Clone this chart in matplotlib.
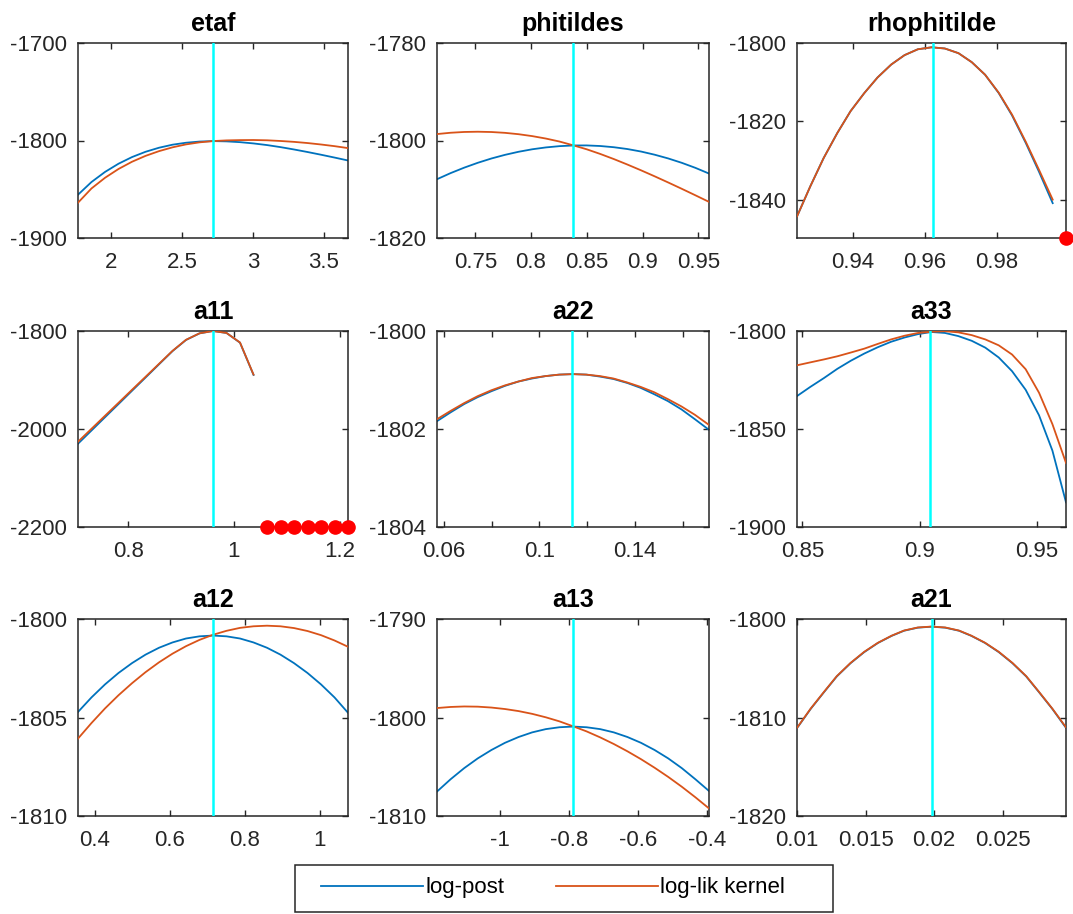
import matplotlib
matplotlib.use("Agg")
import matplotlib.pyplot as plt
from matplotlib.patches import Rectangle
from matplotlib.lines import Line2D

plt.rcParams['font.family'] = ['Liberation Sans', 'DejaVu Sans']
plt.rcParams['axes.unicode_minus'] = False

# ---------------- data ----------------
titles = ['etaf', 'phitildes', 'rhophitilde', 'a11', 'a22', 'a33', 'a12', 'a13', 'a21']

etaf_x = [1.766, 1.861, 1.957, 2.052, 2.147, 2.242, 2.338, 2.433, 2.528, 2.623, 2.719,
          2.814, 2.909, 3.004, 3.100, 3.195, 3.290, 3.385, 3.481, 3.576, 3.671]
etaf_post = [-1855.6, -1842.6, -1832.2, -1823.8, -1817.0, -1811.6, -1807.4, -1804.3, -1802.3, -1801.1, -1800.6,
             -1800.9, -1801.7, -1803.0, -1804.7, -1806.8, -1809.2, -1811.8, -1814.6, -1817.5, -1820.5]
etaf_lik = [-1863.8, -1849.2, -1838.2, -1829.2, -1821.8, -1815.8, -1810.9, -1807.0, -1804.0, -1801.9, -1800.6,
            -1799.9, -1799.6, -1799.5, -1799.8, -1800.5, -1801.4, -1802.6, -1804.1, -1805.8, -1807.8]

phitildes_x = [0.7157, 0.7279, 0.7401, 0.7523, 0.7645, 0.7767, 0.7889, 0.8011, 0.8133, 0.8255, 0.8377,
               0.8499, 0.8621, 0.8743, 0.8864, 0.8986, 0.9108, 0.9230, 0.9352, 0.9474, 0.9596]
phitildes_post = [-1807.94, -1806.69, -1805.57, -1804.57, -1803.69, -1802.94, -1802.31, -1801.80, -1801.42, -1801.16, -1801.02,
                  -1801.01, -1801.13, -1801.38, -1801.75, -1802.26, -1802.91, -1803.68, -1804.58, -1805.61, -1806.78]
phitildes_lik = [-1798.68, -1798.41, -1798.25, -1798.20, -1798.26, -1798.43, -1798.71, -1799.10, -1799.60, -1800.21, -1800.98,
                 -1801.80, -1802.76, -1803.81, -1804.93, -1806.11, -1807.34, -1808.61, -1809.91, -1811.24, -1812.59]

rho_x = [0.9245, 0.9282, 0.9319, 0.9357, 0.9394, 0.9432, 0.9469, 0.9507, 0.9544, 0.9581,
         0.9619, 0.9656, 0.9694, 0.9731, 0.9768, 0.9806, 0.9843, 0.9881, 0.9918, 0.9956]
rho_post = [-1844.3, -1836.6, -1829.4, -1823.0, -1817.4, -1812.8, -1808.8, -1805.5, -1803.1, -1801.6,
            -1801.1, -1801.4, -1802.6, -1804.9, -1808.1, -1812.8, -1818.5, -1825.5, -1832.9, -1840.9]
rho_lik = [-1844.3, -1836.6, -1829.4, -1823.0, -1817.4, -1812.8, -1808.8, -1805.5, -1803.1, -1801.6,
           -1801.1, -1801.4, -1802.6, -1804.9, -1808.1, -1812.7, -1818.3, -1825.2, -1832.4, -1840.0]
rho_bad_x = [0.9993]

a11_x = [0.705, 0.7306, 0.7561, 0.7817, 0.8072, 0.8328, 0.8583, 0.8839, 0.9094, 0.935,
         0.9605, 0.9861, 1.0116, 1.0372]
a11_post = [-2030.0, -2003.0, -1976.0, -1949.0, -1922.0, -1895.0, -1868.0, -1841.0, -1818.3, -1804.8,
            -1800.0, -1804.0, -1823.8, -1889.6]
a11_lik = [-2026.0, -1999.5, -1973.0, -1946.5, -1920.0, -1893.5, -1867.0, -1840.5, -1818.0, -1804.7,
           -1800.0, -1804.0, -1823.5, -1889.0]
a11_bad_x = [1.0627, 1.0883, 1.1138, 1.1394, 1.1649, 1.1905, 1.216]

a22_x = [0.0572, 0.0629, 0.0686, 0.0742, 0.0799, 0.0856, 0.0913, 0.0969, 0.1026, 0.1083, 0.1140,
         0.1196, 0.1253, 0.1310, 0.1367, 0.1423, 0.1480, 0.1537, 0.1594, 0.1650, 0.1707]
a22_post = [-1801.84, -1801.66, -1801.49, -1801.35, -1801.23, -1801.12, -1801.03, -1800.97, -1800.92, -1800.89, -1800.88,
            -1800.89, -1800.93, -1800.98, -1801.06, -1801.16, -1801.29, -1801.43, -1801.60, -1801.80, -1802.01]
a22_lik = [-1801.80, -1801.63, -1801.47, -1801.33, -1801.21, -1801.11, -1801.03, -1800.96, -1800.92, -1800.89, -1800.88,
           -1800.89, -1800.92, -1800.97, -1801.05, -1801.14, -1801.25, -1801.39, -1801.54, -1801.71, -1801.91]

a33_x = [0.8477, 0.8534, 0.8592, 0.8649, 0.8706, 0.8764, 0.8821, 0.8878, 0.8936, 0.8993, 0.9050,
         0.9108, 0.9165, 0.9222, 0.9280, 0.9337, 0.9394, 0.9452, 0.9509, 0.9566, 0.9624]
a33_post = [-1833.2, -1828.5, -1824.0, -1819.3, -1815.2, -1811.5, -1808.3, -1805.5, -1803.3, -1801.6, -1800.5,
            -1801.0, -1802.6, -1805.0, -1808.5, -1813.5, -1820.5, -1830.0, -1843.0, -1861.0, -1887.4]
a33_lik = [-1817.5, -1816.0, -1814.5, -1812.9, -1811.0, -1809.0, -1806.6, -1804.3, -1802.4, -1801.0, -1800.4,
           -1800.1, -1800.7, -1802.1, -1804.3, -1807.3, -1812.0, -1819.5, -1831.5, -1847.5, -1867.3]

a12_x = [0.3556, 0.3916, 0.4276, 0.4636, 0.4996, 0.5356, 0.5716, 0.6076, 0.6436, 0.6796, 0.7156,
         0.7516, 0.7876, 0.8236, 0.8596, 0.8956, 0.9316, 0.9676, 1.0036, 1.0396, 1.0756]
a12_post = [-1804.72, -1803.98, -1803.32, -1802.74, -1802.24, -1801.81, -1801.46, -1801.19, -1800.99, -1800.88, -1800.84,
            -1800.88, -1800.99, -1801.19, -1801.46, -1801.81, -1802.24, -1802.74, -1803.32, -1803.98, -1804.76]
a12_lik = [-1806.07, -1805.28, -1804.54, -1803.87, -1803.26, -1802.70, -1802.20, -1801.76, -1801.38, -1801.06, -1800.80,
           -1800.60, -1800.45, -1800.37, -1800.34, -1800.37, -1800.46, -1800.61, -1800.82, -1801.09, -1801.41]

a13_x = [-1.184, -1.1446, -1.1051, -1.0657, -1.0262, -0.9868, -0.9473, -0.9079, -0.8684, -0.8290, -0.7895,
         -0.7501, -0.7106, -0.6712, -0.6317, -0.5923, -0.5528, -0.5134, -0.4739, -0.4345, -0.395]
a13_post = [-1807.52, -1806.27, -1805.14, -1804.15, -1803.30, -1802.57, -1801.98, -1801.51, -1801.18, -1800.99, -1800.92,
            -1800.99, -1801.18, -1801.51, -1801.98, -1802.57, -1803.30, -1804.15, -1805.14, -1806.27, -1807.46]
a13_lik = [-1799.04, -1798.93, -1798.88, -1798.90, -1798.99, -1799.14, -1799.35, -1799.63, -1799.98, -1800.39, -1800.89,
           -1801.41, -1802.02, -1802.69, -1803.43, -1804.23, -1805.10, -1806.03, -1807.03, -1808.10, -1809.23]

a21_x = [0.0100, 0.0110, 0.0120, 0.0129, 0.0139, 0.0149, 0.0159, 0.0169, 0.0178, 0.0188, 0.0198,
         0.0208, 0.0218, 0.0227, 0.0237, 0.0247, 0.0257, 0.0267, 0.0276, 0.0286, 0.0296]
a21_post = [-1811.08, -1809.12, -1807.37, -1805.83, -1804.49, -1803.36, -1802.43, -1801.71, -1801.19, -1800.88, -1800.78,
            -1800.88, -1801.19, -1801.71, -1802.43, -1803.36, -1804.49, -1805.83, -1807.37, -1809.12, -1811.05]
a21_lik = [-1811.05, -1809.09, -1807.34, -1805.80, -1804.46, -1803.33, -1802.41, -1801.69, -1801.17, -1800.86, -1800.77,
           -1800.86, -1801.17, -1801.69, -1802.41, -1803.33, -1804.46, -1805.80, -1807.34, -1809.09, -1811.00]

modes = [2.716, 0.8373, 0.9622, 0.9605, 0.1136, 0.9045, 0.7156, -0.7895, 0.0198]

xs = [etaf_x, phitildes_x, rho_x, a11_x, a22_x, a33_x, a12_x, a13_x, a21_x]
posts = [etaf_post, phitildes_post, rho_post, a11_post, a22_post, a33_post, a12_post, a13_post, a21_post]
liks = [etaf_lik, phitildes_lik, rho_lik, a11_lik, a22_lik, a33_lik, a12_lik, a13_lik, a21_lik]
bad_xs = [[], [], rho_bad_x, a11_bad_x, [], [], [], [], []]

xlims = [(1.766, 3.671), (0.7157, 0.9596), (0.9245, 0.9993), (0.705, 1.216), (0.0572, 0.1709),
         (0.8477, 0.9624), (0.3556, 1.0756), (-1.184, -0.395), (0.01, 0.0296)]
ylims = [(-1900, -1700), (-1820, -1780), (-1849.8, -1800), (-2200, -1800), (-1804, -1800),
         (-1900, -1800), (-1810, -1800), (-1810, -1790), (-1820, -1800)]
xticks = [[2, 2.5, 3, 3.5], [0.75, 0.8, 0.85, 0.9, 0.95], [0.94, 0.96, 0.98], [0.8, 1, 1.2],
          [0.06, 0.08, 0.1, 0.12, 0.14, 0.16], [0.85, 0.9, 0.95], [0.4, 0.6, 0.8, 1],
          [-1, -0.8, -0.6, -0.4], [0.01, 0.015, 0.02, 0.025]]
xticklabels = [['2', '2.5', '3', '3.5'], ['0.75', '0.8', '0.85', '0.9', '0.95'], ['0.94', '0.96', '0.98'],
               ['0.8', '1', '1.2'], ['0.06', '', '0.1', '', '0.14', ''], ['0.85', '0.9', '0.95'],
               ['0.4', '0.6', '0.8', '1'], ['-1', '-0.8', '-0.6', '-0.4'], ['0.01', '0.015', '0.02', '0.025']]
yticks = [[-1900, -1800, -1700], [-1820, -1800, -1780], [-1840, -1820, -1800], [-2200, -2000, -1800],
          [-1804, -1802, -1800], [-1900, -1850, -1800], [-1810, -1805, -1800], [-1810, -1800, -1790],
          [-1820, -1810, -1800]]
legend_labels = ['log-post', 'log-lik kernel']

# ---------------- style ----------------
BLUE = '#0072BD'
ORANGE = '#D95319'
CYAN = '#00FFFF'
AXC = '#262626'

W, H = 1073, 914
fig = plt.figure(figsize=(W / 100, H / 100), dpi=100)

cols = [(78, 348), (437, 709), (797, 1066)]
rows = [(43, 238), (331, 527), (619, 816)]

for k in range(9):
    r, c = divmod(k, 3)
    x0, x1 = cols[c]
    y0, y1 = rows[r]
    ax = fig.add_axes([x0 / W, 1 - y1 / H, (x1 - x0) / W, (y1 - y0) / H])
    ax.plot(xs[k], posts[k], color=BLUE, lw=1.3, zorder=2)
    ax.plot(xs[k], liks[k], color=ORANGE, lw=1.3, zorder=3)
    ax.axvline(modes[k], color=CYAN, lw=1.8, zorder=4)
    if bad_xs[k]:
        ax.plot(bad_xs[k], [ylims[k][0]] * len(bad_xs[k]), 'o', color='#FF0000',
                markersize=9.5, clip_on=False, zorder=5)
    ax.set_xlim(*xlims[k])
    ax.set_ylim(*ylims[k])
    ax.set_xticks(xticks[k])
    ax.set_xticklabels(xticklabels[k])
    ax.set_yticks(yticks[k])
    ax.set_yticklabels([str(v) for v in yticks[k]])
    ax.tick_params(direction='in', top=True, right=True, length=4, width=1,
                   colors=AXC, labelsize=16, pad=8)
    ax.tick_params(axis='x', pad=10)
    for s in ax.spines.values():
        s.set_color(AXC)
        s.set_linewidth(1.1)
    ax.set_title(titles[k], fontsize=18, fontweight='bold', pad=8.5, color='black')

# legend box
fig.patches.append(Rectangle((295 / W, 1 - 912 / H), 538 / W, 47 / H, transform=fig.transFigure,
                             facecolor='white', edgecolor=AXC, lw=1.1, zorder=0))
handles = [Line2D([], [], color=BLUE, lw=1.3), Line2D([], [], color=ORANGE, lw=1.3)]
fig.legend(handles, legend_labels, loc='center', bbox_to_anchor=(553 / W, 1 - 888 / H),
           ncol=2, frameon=False, fontsize=16, handlelength=4.6, handletextpad=0.1,
           columnspacing=2.3, borderpad=0.2)

fig.savefig('out.png', dpi=100)
